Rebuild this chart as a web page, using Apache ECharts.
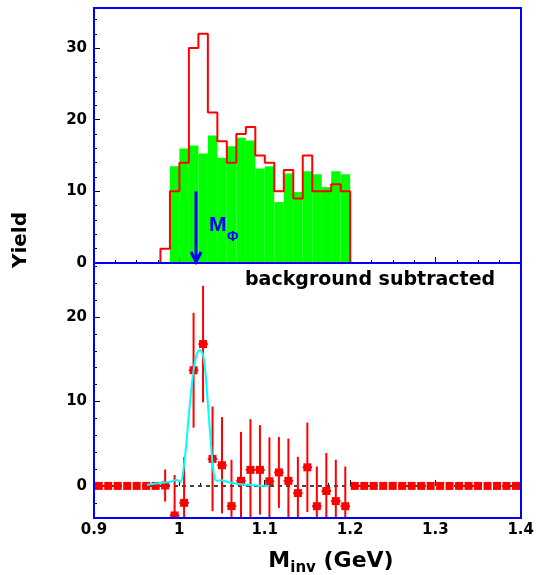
<!DOCTYPE html>
<html><head><meta charset="utf-8">
<script src="https://cdn.jsdelivr.net/npm/echarts@6/dist/echarts.min.js"></script>
<style>html,body{margin:0;padding:0;background:#fff}#c{width:537px;height:575px}</style>
</head><body><div id="c"></div>
<script>
// ---- axis / binning ----
const xMin = 0.9, xMax = 1.4, nBins = 45;
const binWidth = (xMax - xMin) / nBins;
const firstSignalBin = 7;           // first filled bin of the upper histograms
const topYMax = 35.6;
const botYMin = -3.8, botYMax = 26.4;

// ---- upper panel: raw same-event counts (red) and mixed-event background (green), bins 7..26 ----
const rawCounts = [2, 10, 14, 30, 32, 21, 17, 14, 18, 19, 15, 14, 10, 13, 9, 15, 10, 10, 11, 10];
const mixedBackground = [0, 13.5, 16.0, 16.4, 15.3, 17.8, 14.7, 16.3, 17.5, 17.1, 13.2, 13.5, 8.5, 12.5, 9.9, 12.8, 12.4, 10.6, 12.8, 12.4];

// ---- phi mass arrow ----
const phiMass = 1.0195;
const arrowTop = 10;

// ---- lower panel: background subtracted yield, all 45 bins ----
const subtracted = [0, 0, 0, 0, 0, 0, 0,
  0.05, -3.5, -2.0, 13.7, 16.8, 3.2, 2.45, -2.4, 0.6, 1.9, 1.9, 0.55, 1.6, 0.6, -0.85, 2.2, -2.4, -0.6, -1.8, -2.4,
  0, 0, 0, 0, 0, 0, 0, 0, 0, 0, 0, 0, 0, 0, 0, 0, 0, 0];
const subtractedErr = [0, 0, 0, 0, 0, 0, 0,
  1.9, 4.8, 5.4, 6.8, 6.9, 6.2, 5.7, 5.5, 5.8, 6.0, 5.3, 5.2, 4.2, 5.0, 4.3, 5.3, 4.7, 4.5, 4.9, 4.7,
  0, 0, 0, 0, 0, 0, 0, 0, 0, 0, 0, 0, 0, 0, 0, 0, 0, 0];

// ---- fit curve ----
const fitX = [0.962, 0.970, 0.983, 0.990, 0.9968, 1.0015, 1.0046, 1.0077, 1.0112, 1.0151, 1.0194, 1.0241, 1.0280, 1.0311, 1.0343, 1.0374, 1.0405, 1.0437, 1.0484, 1.0593, 1.0710, 1.085, 1.105];
const fitY = [0.1, 0.25, 0.4, 0.5, 0.7, 0.5, 1.8, 4.5, 8.5, 12.4, 15.2, 16.1, 15.4, 12.8, 8.5, 4.5, 1.4, 0.6, 0.67, 0.4, 0.2, 0.1, 0.0];

// ---- ticks ----
const xMajorTicks = [0.9, 1.0, 1.1, 1.2, 1.3, 1.4];
const xMinorStep = 0.025;
const yTopMajorTicks = [0, 10, 20, 30];
const yBotMajorTicks = [0, 10, 20];
const yMinorStep = 2;

// ---------------------------------------------------------------
const FONT = 'DejaVu Sans';
const G = { left: 94, width: 427, top1: 8, top2: 263, height: 255 };
const edge = k => xMin + k * binWidth;
const rangeTicks = (a, b, s) => { const r = []; for (let v = a; v <= b + 1e-9; v += s) r.push(Math.round(v * 1000) / 1000); return r; };
const xMinorTicks = rangeTicks(xMin, xMax, xMinorStep);
const yTopMinorTicks = rangeTicks(0, 34, yMinorStep);
const yBotMinorTicks = rangeTicks(-2, 26, yMinorStep);

const greenData = mixedBackground.map((v, i) => [edge(firstSignalBin + i), edge(firstSignalBin + i + 1), v]);
const nSig = rawCounts.length;
const redStep = [[edge(firstSignalBin), 0]];
rawCounts.forEach((v, i) => redStep.push([edge(firstSignalBin + i), v]));
redStep.push([edge(firstSignalBin + nSig), rawCounts[nSig - 1]]);
redStep.push([edge(firstSignalBin + nSig), 0]);
const pointData = subtracted.map((v, k) => [edge(k) + binWidth / 2, v, subtractedErr[k], edge(k), edge(k + 1)]);
const fitData = fitX.map((x, i) => [x, fitY[i]]);

const labelStyle = { fontFamily: FONT, fontWeight: 'bold', fontSize: 15, color: '#000' };
function xAxis(grid, ticks, len, withLabels) {
  return {
    type: 'value', gridIndex: grid, min: xMin, max: xMax, position: 'bottom',
    axisLine: { show: false }, splitLine: { show: false },
    axisTick: { show: true, inside: true, length: len, customValues: ticks, lineStyle: { color: '#000', width: 1 } },
    axisLabel: withLabels ? Object.assign({ show: true, customValues: ticks, margin: 5, showMinLabel: true, showMaxLabel: true,
      formatter: v => String(Math.round(v * 10) / 10) }, labelStyle) : { show: false }
  };
}
function yAxis(grid, min, max, ticks, len, withLabels) {
  return {
    type: 'value', gridIndex: grid, min: min, max: max, position: 'left',
    axisLine: { show: false }, splitLine: { show: false },
    axisTick: { show: true, inside: true, length: len, customValues: ticks, lineStyle: { color: '#000', width: 1 } },
    axisLabel: withLabels ? Object.assign({ show: true, customValues: ticks, margin: 7, showMinLabel: true, showMaxLabel: true,
      formatter: v => String(Math.round(v)) }, labelStyle) : { show: false }
  };
}

const chart = echarts.init(document.getElementById('c'));
chart.setOption({
  animation: false,
  backgroundColor: '#fff',
  grid: [
    { left: G.left, top: G.top1, width: G.width, height: G.height, show: false },
    { left: G.left, top: G.top2, width: G.width, height: G.height, show: false }
  ],
  xAxis: [
    xAxis(0, xMajorTicks, 6, false),
    xAxis(0, xMinorTicks, 3, false),
    xAxis(1, xMajorTicks, 6, true),
    xAxis(1, xMinorTicks, 3, false)
  ],
  yAxis: [
    yAxis(0, 0, topYMax, yTopMajorTicks, 6, true),
    yAxis(0, 0, topYMax, yTopMinorTicks, 3, false),
    yAxis(1, botYMin, botYMax, yBotMajorTicks, 6, true),
    yAxis(1, botYMin, botYMax, yBotMinorTicks, 3, false)
  ],
  series: [
    { type: 'custom', xAxisIndex: 0, yAxisIndex: 0, data: greenData, encode: { x: [0, 1], y: 2 }, z: 1,
      renderItem: (params, api) => {
        const a = api.coord([api.value(0), api.value(2)]);
        const b = api.coord([api.value(1), 0]);
        return { type: 'rect', shape: { x: a[0], y: a[1], width: b[0] - a[0], height: b[1] - a[1] }, style: { fill: '#00ff00' } };
      } },
    { type: 'line', xAxisIndex: 0, yAxisIndex: 0, data: redStep, step: 'end', showSymbol: false, symbol: 'none', z: 3,
      lineStyle: { color: '#ff0000', width: 2 } },
    { type: 'custom', xAxisIndex: 0, yAxisIndex: 0, data: [[phiMass, arrowTop]], z: 5,
      renderItem: (params, api) => {
        const t = api.coord([api.value(0), api.value(1)]);
        const b = api.coord([api.value(0), 0]);
        return { type: 'group', children: [
          { type: 'line', shape: { x1: t[0], y1: t[1], x2: b[0], y2: b[1] - 1 }, style: { stroke: '#0000ff', lineWidth: 3 } },
          { type: 'polyline', shape: { points: [[b[0] - 5, b[1] - 11], [b[0], b[1] - 1], [b[0] + 5, b[1] - 11]] }, style: { stroke: '#0000ff', lineWidth: 3, fill: null } },
          { type: 'text', x: t[0] + 13, y: t[1] + 34, style: { text: 'M', fill: '#0000ff', fontFamily: 'Liberation Sans', fontWeight: 'bold', fontSize: 21, verticalAlign: 'middle', align: 'left' } },
          { type: 'text', x: t[0] + 31, y: t[1] + 46, style: { text: 'Φ', fill: '#0000ff', fontFamily: 'Liberation Sans', fontWeight: 'bold', fontSize: 14, verticalAlign: 'middle', align: 'left' } }
        ] };
      } },
    { type: 'line', xAxisIndex: 2, yAxisIndex: 2, data: [[xMin, 0], [xMax, 0]], symbol: 'none', z: 2,
      lineStyle: { color: '#444', width: 2, type: [4, 4] } },
    { type: 'custom', xAxisIndex: 2, yAxisIndex: 2, data: pointData, clip: true, z: 4,
      encode: { x: 0, y: 1 },
      renderItem: (params, api) => {
        const x = api.value(0), y = api.value(1), e = api.value(2);
        const c = api.coord([x, y]);
        const ch = [];
        if (e > 0) {
          const t = api.coord([x, Math.min(y + e, botYMax)]);
          const b = api.coord([x, Math.max(y - e, botYMin)]);
          const l = api.coord([api.value(3), y]);
          const r = api.coord([api.value(4), y]);
          ch.push({ type: 'line', shape: { x1: c[0], y1: t[1], x2: c[0], y2: b[1] }, style: { stroke: '#ff0000', lineWidth: 2 } });
          ch.push({ type: 'line', shape: { x1: l[0], y1: c[1], x2: r[0], y2: c[1] }, style: { stroke: '#ff0000', lineWidth: 2 } });
        }
        ch.push({ type: 'rect', shape: { x: c[0] - 4, y: c[1] - 4, width: 8, height: 8 }, style: { fill: '#ff0000' } });
        return { type: 'group', children: ch };
      } },
    { type: 'line', xAxisIndex: 2, yAxisIndex: 2, data: fitData, symbol: 'none', smooth: 0.35, z: 6,
      lineStyle: { color: '#00ffff', width: 2 } }
  ],
  graphic: [
    { type: 'rect', z: 100, silent: true, shape: { x: G.left, y: G.top1, width: G.width, height: G.height },
      style: { fill: null, stroke: '#0000ff', lineWidth: 2 } },
    { type: 'rect', z: 100, silent: true, shape: { x: G.left, y: G.top2, width: G.width, height: G.height },
      style: { fill: null, stroke: '#0000ff', lineWidth: 2 } },
    { type: 'text', x: 21, y: 240, rotation: Math.PI / 2,
      style: { text: 'Yield', fontFamily: FONT, fontWeight: 'bold', fontSize: 20, fill: '#000', align: 'center', verticalAlign: 'middle' } },
    { type: 'text', x: 245, y: 280,
      style: { text: 'background subtracted', fontFamily: FONT, fontWeight: 'bold', fontSize: 19, fill: '#000', align: 'left', verticalAlign: 'middle' } },
    { type: 'text', x: 331, y: 561,
      style: { text: '{b|M}{s|inv}{b| (GeV)}', align: 'center', verticalAlign: 'middle',
        rich: {
          b: { fontFamily: FONT, fontWeight: 'bold', fontSize: 22, fill: '#000', lineHeight: 30, verticalAlign: 'middle' },
          s: { fontFamily: FONT, fontWeight: 'bold', fontSize: 15, fill: '#000', lineHeight: 30, verticalAlign: 'bottom' }
        } } }
  ]
});
</script>
</body></html>
